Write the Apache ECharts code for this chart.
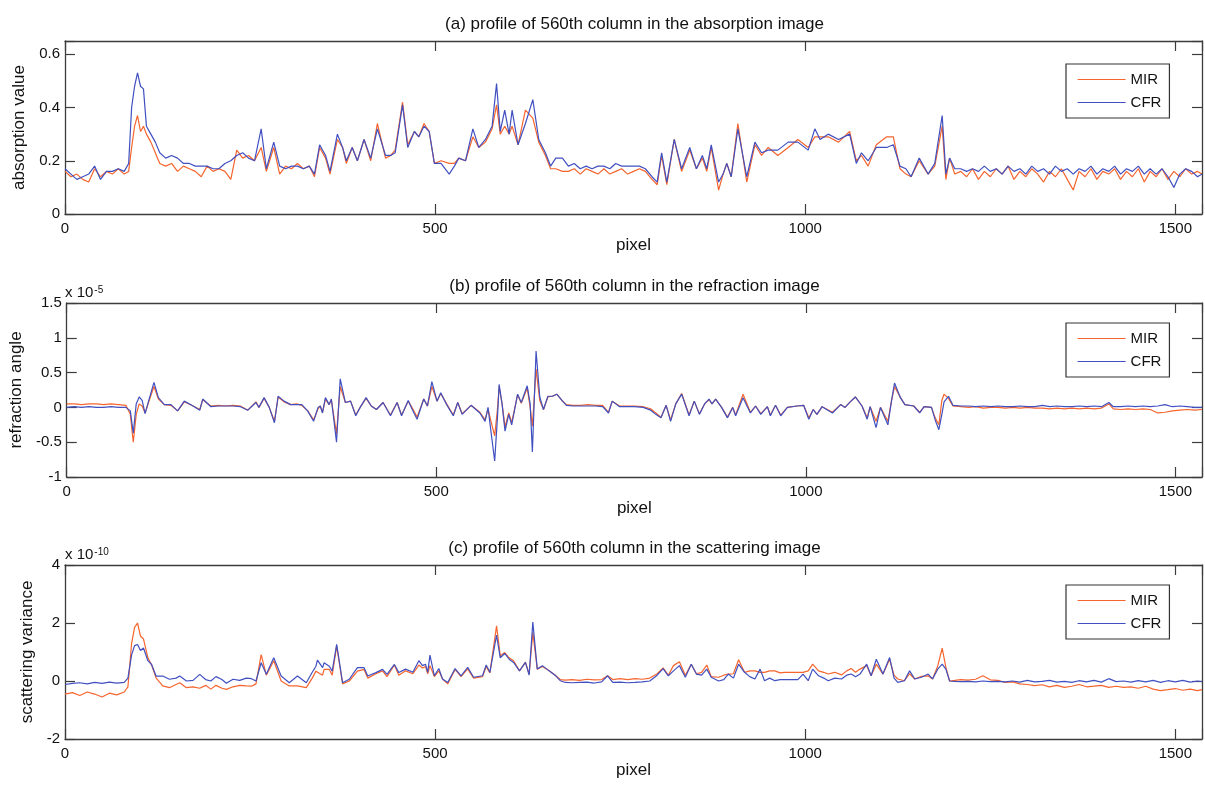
<!DOCTYPE html>
<html>
<head>
<meta charset="utf-8">
<script src="https://cdn.jsdelivr.net/npm/echarts@6/dist/echarts.min.js"></script>
<style>
  html, body { margin: 0; padding: 0; background: #fff; }
  #main { width: 1205px; height: 785px; }
</style>
</head>
<body>
<div id="main"></div>
<script>
// ---- (a) absorption profile: pixel positions and values ----
const pxA = [
  0,8,16,24,32,40,48,56,64,72,
  80,86,90,94,98,102,106,110,116,122,
  128,136,144,152,160,168,176,184,192,200,
  208,216,224,232,240,248,256,265,272,282,
  290,298,306,314,322,330,337,344,352,358,
  368,375,380,388,395,404,413,422,433,440,
  446,456,463,472,478,485,492,499,508,519,
  526,532,541,551,559,568,577,583,588,594,
  600,604,612,622,632,640,649,656,663,672,
  680,688,696,704,712,720,728,736,744,752,
  760,768,776,784,793,800,806,813,823,833,
  844,853,861,867,873,883,889,894,900,909,
  921,932,941,950,963,977,990,1004,1013,1020,
  1031,1045,1060,1069,1076,1085,1096,1110,1119,1128,
  1136,1143,1154,1166,1175,1185,1190,1195,1202,1210,
  1218,1226,1234,1242,1250,1258,1266,1274,1282,1290,
  1298,1306,1314,1322,1330,1338,1346,1354,1362,1370,
  1378,1386,1394,1402,1410,1418,1426,1434,1442,1450,
  1458,1466,1474,1482,1490,1498,1506,1514,1522,1530,
  1536
];
const mirA = [
  .16,.14,.15,.13,.12,.17,.14,.16,.15,.17,
  .15,.16,.25,.33,.37,.31,.33,.30,.27,.23,
  .19,.18,.19,.16,.18,.17,.16,.14,.18,.16,
  .17,.16,.13,.24,.21,.22,.20,.25,.16,.25,
  .15,.18,.17,.19,.17,.18,.14,.25,.21,.15,
  .28,.25,.19,.25,.20,.28,.20,.34,.21,.22,
  .24,.42,.26,.31,.29,.34,.31,.19,.20,.19,
  .19,.21,.20,.29,.25,.27,.32,.41,.30,.33,
  .30,.33,.26,.39,.36,.27,.22,.17,.17,.16,
  .16,.17,.15,.17,.16,.15,.17,.15,.16,.17,
  .15,.16,.17,.16,.13,.11,.22,.11,.28,.16,
  .24,.17,.21,.16,.25,.09,.15,.19,.14,.34,
  .12,.26,.22,.25,.22,.25,.28,.25,.29,.29,
  .29,.27,.31,.20,.22,.18,.26,.29,.29,.17,
  .15,.14,.20,.15,.18,.33,.13,.21,.15,.16,
  .14,.17,.13,.16,.14,.17,.15,.18,.13,.16,
  .14,.17,.15,.12,.16,.14,.17,.13,.09,.16,
  .14,.17,.13,.16,.15,.17,.13,.16,.14,.17,
  .12,.16,.14,.17,.13,.16,.14,.17,.15,.16,
  .15
];
const cfrA = [
  .17,.15,.13,.14,.15,.18,.13,.16,.16,.17,
  .16,.19,.40,.48,.53,.48,.47,.33,.30,.27,
  .23,.21,.22,.21,.19,.19,.18,.18,.18,.17,
  .17,.19,.20,.22,.23,.21,.20,.32,.17,.27,
  .18,.17,.18,.18,.17,.18,.15,.26,.22,.16,
  .30,.25,.20,.25,.20,.28,.21,.32,.22,.22,
  .23,.41,.25,.31,.29,.33,.31,.19,.19,.15,
  .18,.21,.20,.32,.25,.28,.33,.49,.31,.39,
  .30,.39,.26,.34,.43,.28,.23,.18,.21,.21,
  .18,.19,.17,.18,.17,.18,.18,.17,.19,.18,
  .18,.18,.18,.17,.14,.12,.23,.12,.28,.17,
  .25,.17,.22,.17,.26,.12,.15,.19,.14,.32,
  .14,.27,.23,.24,.24,.27,.27,.24,.32,.28,
  .30,.28,.30,.19,.23,.20,.25,.25,.26,.18,
  .17,.14,.21,.15,.19,.37,.15,.21,.17,.17,
  .16,.17,.16,.18,.16,.17,.15,.18,.16,.17,
  .15,.18,.16,.17,.15,.18,.16,.17,.15,.17,
  .16,.18,.15,.17,.16,.18,.15,.17,.16,.18,
  .15,.17,.15,.17,.14,.10,.15,.17,.16,.14,
  .15
];

// ---- (b) refraction profile (units of 1e-5) ----
const pxB = [
  0,10,20,30,40,50,60,70,80,86,
  90,94,98,102,106,111,118,124,132,141,
  150,159,171,180,184,195,205,215,225,235,
  245,256,260,267,274,281,286,294,303,311,
  318,326,334,340,343,346,350,355,358,365,
  370,377,384,391,397,405,412,419,428,438,
  447,453,462,467,474,483,488,494,501,506,
  514,523,529,535,547,559,566,570,574,579,
  583,585,589,593,598,602,610,615,623,627,
  630,635,640,645,651,657,663,670,676,685,
  695,705,715,725,733,738,748,758,768,780,
  790,797,804,811,817,824,832,842,849,856,
  863,869,873,878,886,894,901,905,915,925,
  932,939,948,952,959,966,975,988,997,1004,
  1010,1015,1022,1036,1047,1053,1060,1067,1076,1083,
  1087,1095,1101,1111,1116,1120,1128,1134,1146,1154,
  1160,1170,1175,1180,1184,1187,1193,1199,1210,1220,
  1230,1240,1250,1260,1270,1280,1290,1300,1310,1320,
  1330,1340,1350,1360,1370,1380,1390,1400,1410,1416,
  1426,1436,1446,1456,1466,1476,1486,1496,1506,1516,
  1526,1536
];
const mirB = [
  .05,.05,.04,.05,.05,.04,.05,.04,.03,-.10,
  -.50,-.10,.05,.02,-.08,.08,.30,.12,.04,.03,
  -.05,.08,.02,-.03,.11,.02,.03,.02,.03,.02,
  -.04,.08,.00,.13,.00,-.20,.15,.08,.04,.05,
  .03,-.05,-.18,-.02,.02,-.07,.12,.04,.11,-.38,
  .30,.07,.09,-.11,.00,.13,.02,-.03,.07,-.11,
  .07,-.11,.09,.00,-.14,.12,.02,.30,.09,.20,
  .05,-.11,.07,-.09,.03,-.07,-.18,-.02,-.20,-.41,
  .00,.30,.05,-.28,-.08,-.22,.18,.06,.28,.00,
  -.27,.55,.10,-.03,.15,.16,.19,.10,.04,.03,
  .03,.04,.03,.03,-.07,.09,.02,.02,.02,.01,
  -.02,-.08,-.14,.03,-.18,.05,.20,-.11,.09,-.09,
  .05,.11,.05,.12,.00,-.14,.00,-.11,.19,-.07,
  .02,-.09,.01,-.11,.03,-.11,.00,.02,.03,-.15,
  -.03,-.10,.01,-.07,.04,.00,.08,.15,.02,-.15,
  .01,-.20,.00,-.20,.10,.30,.14,.04,.02,-.07,
  .01,.00,-.15,-.25,.10,.19,.13,.02,.01,.00,
  .01,-.01,.00,.00,-.01,.00,-.01,.00,-.01,-.01,
  -.02,-.01,-.02,-.01,-.02,-.01,-.02,-.01,.05,-.02,
  -.03,-.02,-.03,-.02,-.03,-.08,-.07,-.05,-.04,-.03,
  -.04,-.03
];
const cfrB = [
  .00,.01,.00,.01,.00,.00,.01,.00,.00,-.05,
  -.37,.05,.15,.10,-.09,.10,.36,.14,.04,.04,
  -.05,.09,.02,-.04,.12,.01,.02,.02,.02,.01,
  -.04,.07,.00,.14,.00,-.22,.16,.09,.04,.04,
  .04,-.05,-.20,.00,.02,-.08,.14,.04,.12,-.50,
  .41,.07,.09,-.12,.00,.14,.02,-.03,.07,-.12,
  .07,-.12,.10,-.02,-.17,.12,.02,.37,.09,.21,
  .04,-.12,.07,-.10,.03,-.08,-.20,.00,-.35,-.77,
  -.10,.33,.05,-.34,-.10,-.25,.19,.07,.31,.05,
  -.64,.81,.15,-.03,.16,.16,.19,.10,.03,.02,
  .02,.02,.02,.01,-.08,.09,.01,.01,.01,.00,
  -.04,-.10,-.15,.03,-.20,.05,.19,-.12,.09,-.10,
  .05,.12,.05,.12,.00,-.15,.00,-.12,.14,-.08,
  .02,-.10,.01,-.12,.03,-.12,.00,.02,.03,-.17,
  -.03,-.10,.01,-.08,.04,.00,.08,.15,.02,-.17,
  .01,-.29,.00,-.25,.10,.35,.14,.04,.02,-.08,
  .01,.00,-.18,-.32,-.10,.08,.16,.03,.02,.02,
  .01,.02,.01,.02,.01,.01,.02,.01,.01,.03,
  .01,.02,.01,.01,.02,.01,.02,.01,.07,.01,
  .01,.02,.01,.02,.01,.02,.04,.01,.02,.01,
  .00,.00
];

// ---- (c) scattering profile (units of 1e-10) ----
const pxC = [
  0,10,20,30,40,50,60,70,80,85,
  90,94,98,102,106,112,117,123,132,141,
  150,155,164,173,182,190,197,204,212,218,
  227,236,245,252,258,265,272,282,292,303,
  314,326,334,339,341,348,350,357,361,367,
  375,384,395,404,409,420,429,435,445,451,
  460,470,478,483,487,490,493,499,505,510,
  517,527,535,544,552,564,569,574,583,588,
  594,600,606,614,622,627,632,638,645,654,
  663,669,676,685,695,705,715,725,733,740,
  750,760,770,780,790,800,808,815,822,830,
  838,846,853,860,867,873,883,890,896,903,
  910,918,925,932,939,945,952,959,966,972,
  980,990,997,1004,1010,1018,1025,1031,1040,1049,
  1056,1062,1068,1074,1083,1089,1096,1105,1114,1120,
  1125,1134,1141,1148,1157,1166,1172,1179,1185,1190,
  1195,1202,1210,1220,1230,1240,1250,1260,1270,1280,
  1290,1300,1310,1320,1330,1340,1350,1360,1370,1380,
  1390,1400,1410,1420,1430,1440,1450,1460,1470,1480,
  1490,1500,1510,1520,1530,1536
];
const mirC = [
  -.45,-.40,-.50,-.38,-.45,-.55,-.42,-.48,-.38,-.20,
  1.30,1.85,2.00,1.55,1.45,.80,.55,.11,-.17,-.23,
  -.12,-.06,-.23,-.20,-.25,-.15,-.28,-.15,-.25,-.29,
  -.20,-.15,-.17,-.18,-.10,.91,.20,.70,.00,-.17,
  -.17,-.23,.10,.34,.40,.20,.40,.40,.20,1.20,
  -.10,.00,.34,.40,.10,.25,.35,.15,.55,.20,
  .35,.25,.55,.45,.50,.25,.53,.15,.35,.07,
  -.10,.40,.15,.42,.10,.15,.50,.28,1.90,.87,
  .98,.80,.70,.35,.65,.24,1.67,.41,.50,.35,
  .18,.05,.03,.05,.02,.06,.04,.05,.18,.05,
  .08,.05,.08,.06,.10,.25,.45,.20,.53,.66,
  .20,.58,.25,.30,.55,.15,.13,.20,.24,.25,
  .73,.30,.35,.35,.30,.30,.35,.35,.28,.30,
  .30,.30,.30,.35,.58,.35,.30,.24,.30,.21,
  .35,.43,.30,.41,.53,.18,.58,.24,.75,.20,
  .07,.01,.25,.07,.16,.18,.07,.52,1.13,.47,
  .00,.02,.05,.03,.06,.18,.04,.02,-.05,-.03,
  -.10,-.12,-.16,-.13,-.20,-.15,-.22,-.18,-.12,-.20,
  -.18,-.15,-.22,-.18,-.22,-.20,-.25,-.18,-.28,-.33,
  -.30,-.26,-.32,-.28,-.33,-.30
];
const cfrC = [
  -.12,-.08,-.06,-.10,-.05,-.08,-.04,-.07,-.05,.10,
  .90,1.22,1.26,1.05,1.14,.70,.57,.17,.17,.06,
  .10,.17,.00,.02,.23,.05,.00,.15,.05,-.08,
  .06,.02,.10,.08,.00,.63,.23,.80,.17,-.06,
  .17,-.06,.30,.51,.72,.46,.63,.51,.34,1.26,
  -.06,.06,.46,.46,.17,.29,.40,.23,.57,.29,
  .41,.30,.70,.53,.58,.30,.89,.18,.43,.07,
  -.05,.43,.18,.47,.13,.18,.55,.30,1.58,.80,
  .95,.75,.64,.35,.64,.20,2.03,.41,.53,.35,
  .18,.01,-.05,-.06,-.05,-.04,-.07,-.03,.18,-.05,
  -.04,-.06,-.05,-.03,.00,.20,.43,.18,.35,.53,
  .13,.58,.24,.20,.41,.13,.00,.05,.24,.10,
  .58,.30,.15,.07,.41,.01,.10,.01,.05,.05,
  .05,.05,.24,.01,.41,.18,.10,.01,.10,.07,
  .20,.24,.15,.24,.58,.18,.75,.24,.81,.10,
  -.05,.01,.35,.07,.13,.24,.07,.41,.58,.41,
  .00,-.01,-.02,-.01,-.03,.00,-.02,-.01,-.03,.00,
  -.04,.02,-.03,-.01,.02,-.04,-.01,-.05,.01,-.03,
  .02,-.04,.08,-.02,.00,-.04,.01,-.03,.02,-.05,
  .01,-.03,.02,-.04,.00,-.02
];

const seriesNames = ['MIR', 'CFR'];
const titles = [
  '(a) profile of 560th column in the absorption image',
  '(b) profile of 560th column in the refraction image',
  '(c) profile of 560th column in the scattering image'
];
const yNames = ['absorption value', 'refraction angle', 'scattering variance'];
const yExponents = [null, '-5', '-10'];
const yRanges = [[0, 0.65, 0.2], [-1, 1.5, 0.5], [-2, 4, 2]];
const xRange = [0, 1536, 500];

// sanity check so a typo in the tables shows up as an error
[[pxA, mirA, cfrA], [pxB, mirB, cfrB], [pxC, mirC, cfrC]].forEach((t, i) => {
  if (t[0].length !== t[1].length || t[0].length !== t[2].length) {
    throw new Error('panel ' + i + ' lengths ' + t.map(a => a.length).join('/'));
  }
});

const panels = [
  { px: pxA, mir: mirA, cfr: cfrA, top: 41,  height: 173, nameGap: 33 },
  { px: pxB, mir: mirB, cfr: cfrB, top: 303, height: 174, nameGap: 39 },
  { px: pxC, mir: mirC, cfr: cfrC, top: 565, height: 174, nameGap: 25 }
];

const FONT = '"Liberation Sans", Arial, Helvetica, sans-serif';
const AXIS = '#3c3c3c';
const ORANGE = '#f5652e';
const BLUE = '#4050c0';
const GRID_LEFT = 65, GRID_W = 1139;

const onTick = (v, step) => Math.abs(v / step - Math.round(v / step)) < 1e-6;

const grid = [], xAxis = [], yAxis = [], series = [], legend = [], graphic = [];

panels.forEach((p, i) => {
  const [ymin, ymax, yint] = yRanges[i];
  grid.push({ left: GRID_LEFT, top: p.top, width: GRID_W, height: p.height });

  const tickStyle = { inside: true, length: 10, lineStyle: { color: AXIS, width: 1.2 } };
  const lineStyle = { onZero: false, lineStyle: { color: AXIS, width: 1.3 } };

  xAxis.push({
    type: 'value', gridIndex: i, position: 'bottom',
    min: xRange[0], max: xRange[1], interval: xRange[2],
    axisLine: lineStyle, axisTick: tickStyle, splitLine: { show: false },
    axisLabel: {
      color: '#111', fontSize: 15, fontFamily: FONT, margin: 7,
      formatter: v => onTick(v, xRange[2]) ? String(v) : ''
    },
    name: 'pixel', nameLocation: 'middle', nameGap: 23,
    nameTextStyle: { color: '#111', fontSize: 17, fontFamily: FONT }
  });
  xAxis.push({
    type: 'value', gridIndex: i, position: 'top',
    min: xRange[0], max: xRange[1], interval: xRange[2],
    axisLine: lineStyle, axisTick: tickStyle, splitLine: { show: false },
    axisLabel: { show: false }
  });

  yAxis.push({
    type: 'value', gridIndex: i, position: 'left',
    min: ymin, max: ymax, interval: yint,
    axisLine: lineStyle, axisTick: tickStyle, splitLine: { show: false },
    axisLabel: {
      color: '#111', fontSize: 15, fontFamily: FONT, margin: 5,
      formatter: v => onTick(v, yint) ? String(+v.toFixed(2)) : ''
    },
    name: yNames[i], nameLocation: 'middle', nameRotate: 90, nameGap: p.nameGap,
    nameTextStyle: { color: '#111', fontSize: 17, fontFamily: FONT }
  });
  yAxis.push({
    type: 'value', gridIndex: i, position: 'right',
    min: ymin, max: ymax, interval: yint,
    axisLine: lineStyle, axisTick: tickStyle, splitLine: { show: false },
    axisLabel: { show: false }
  });

  [[p.mir, ORANGE], [p.cfr, BLUE]].forEach(([vals, color], k) => {
    series.push({
      type: 'line', name: seriesNames[k],
      xAxisIndex: 2 * i, yAxisIndex: 2 * i,
      data: p.px.map((x, j) => [x, vals[j]]),
      symbol: 'none', color: color,
      lineStyle: { color: color, width: 1.2 },
      animation: false, silent: true
    });
  });

  legend.push({
    data: seriesNames, orient: 'vertical',
    left: 1066, top: p.top + (i === 0 ? 23 : 20),
    itemWidth: 48, itemHeight: 14, itemGap: 8, itemTextGap: 5,
    padding: [8, 8, 8, 11],
    itemStyle: { opacity: 0 },
    lineStyle: { width: 1.2 },
    borderColor: '#333', borderWidth: 1.2, backgroundColor: '#fff',
    textStyle: { color: '#111', fontSize: 15, fontFamily: FONT },
    selectedMode: false
  });

  graphic.push({
    type: 'text', x: GRID_LEFT + GRID_W / 2, y: p.top - 17,
    style: {
      text: titles[i], fontSize: 17, fontFamily: FONT, fill: '#111',
      align: 'center', verticalAlign: 'middle'
    }
  });
  if (yExponents[i]) {
    graphic.push({
      type: 'text', left: GRID_LEFT, top: p.top - 18,
      style: {
        text: 'x 10{sup|' + yExponents[i] + '}',
        fontSize: 15, fontFamily: FONT, fill: '#111',
        rich: { sup: { fontSize: 10, fontFamily: FONT, fill: '#111', verticalAlign: 'top', padding: [0, 0, 6, 1] } }
      }
    });
  }
});

const chart = echarts.init(document.getElementById('main'), null, { renderer: 'canvas' });
chart.setOption({
  backgroundColor: '#fff',
  animation: false,
  textStyle: { fontFamily: FONT },
  grid, xAxis, yAxis, series, legend, graphic
});
</script>
</body>
</html>
